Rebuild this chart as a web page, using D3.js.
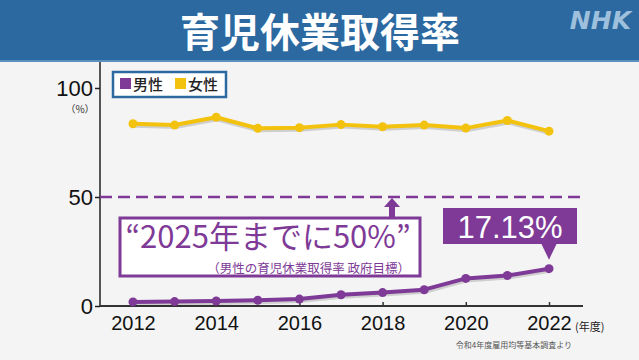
<!DOCTYPE html>
<html>
<head>
<meta charset="utf-8">
<script src="https://cdn.jsdelivr.net/npm/d3@7"></script>
<style>
  body { margin: 0; background: #f4f4f4; }
  svg { display: block; font-family: "Noto Sans CJK JP", "Noto Sans", sans-serif; }
</style>
</head>
<body>
<div id="chart"></div>
<script>
// Data (育児休業取得率, %)
const years = [2012, 2013, 2014, 2015, 2016, 2017, 2018, 2019, 2020, 2021, 2022];
const male = [1.89, 2.03, 2.30, 2.65, 3.16, 5.14, 6.16, 7.48, 12.65, 13.97, 17.13];
const female = [83.6, 83.0, 86.6, 81.5, 81.8, 83.2, 82.2, 83.0, 81.6, 85.1, 80.2];
const yTicks = [0, 50, 100];
const xTicks = [2012, 2014, 2016, 2018, 2020, 2022];
const target = 50;

const W = 639, H = 360;
const purple = "#7e3a96", yellow = "#f3c20f", blue = "#2b69a0";

const svg = d3.select("#chart").append("svg")
  .attr("width", W).attr("height", H);

// Background and header
svg.append("rect").attr("width", W).attr("height", H).attr("fill", "#f4f4f4");
svg.append("rect").attr("width", W).attr("height", 61).attr("fill", blue);
svg.append("rect").attr("y", 60).attr("width", W).attr("height", 2).attr("fill", "#5a8fbf");

svg.append("text")
  .attr("x", 320).attr("y", 47)
  .attr("text-anchor", "middle")
  .style("font-size", "40px").style("font-weight", "bold")
  .style("fill", "white")
  .text("育児休業取得率");

svg.append("text")
  .attr("x", 631).attr("y", 29)
  .attr("text-anchor", "end")
  .style("font-family", "'DejaVu Sans', sans-serif")
  .style("font-size", "25px").style("font-weight", "bold").style("font-style", "italic")
  .style("fill", "#9ec0dd")
  .text("NHK");

// Scales
const x = d3.scaleLinear().domain([2012, 2022]).range([133, 549]);
const y = d3.scaleLinear().domain([0, 100]).range([306, 88]);

// Axes
const g = svg.append("g");
g.append("line").attr("x1", 100).attr("x2", 100).attr("y1", 62).attr("y2", 306)
  .attr("stroke", "#222").attr("stroke-width", 1.5);
g.append("line").attr("x1", 100).attr("x2", 583).attr("y1", 306).attr("y2", 306)
  .attr("stroke", "#333").attr("stroke-width", 2);

const yAxis = g.append("g")
  .attr("transform", "translate(100,0)")
  .call(d3.axisLeft(y).tickValues(yTicks).tickSize(5).tickPadding(2));
yAxis.select(".domain").remove();
yAxis.selectAll("line").attr("stroke", "#222").attr("stroke-width", 1.5);
yAxis.selectAll("text")
  .style("font-family", "'Liberation Sans', Arial, sans-serif")
  .style("font-size", "22px").style("fill", "#111").attr("dy", "0.36em");

const xAxis = g.append("g")
  .attr("transform", "translate(0,306)")
  .call(d3.axisBottom(x).tickValues(xTicks).tickFormat(d3.format("d")).tickSize(-4).tickPadding(10));
xAxis.select(".domain").remove();
xAxis.selectAll("line").attr("stroke", "#333").attr("stroke-width", 1.5);
xAxis.selectAll("text")
  .style("font-family", "'Liberation Sans', Arial, sans-serif")
  .style("font-size", "20px").style("fill", "#111");

svg.append("text").attr("x", 80).attr("y", 113).attr("text-anchor", "middle")
  .style("font-size", "10px").style("fill", "#333").text("（%）");
svg.append("text").attr("x", 575).attr("y", 331).attr("text-anchor", "start")
  .style("font-size", "11px").style("fill", "#222").text("(年度)");
svg.append("text").attr("x", 572).attr("y", 348).attr("text-anchor", "end")
  .style("font-size", "8px").style("fill", "#555").text("令和4年度雇用均等基本調査より");

// Target dashed line
svg.append("line")
  .attr("x1", 100).attr("x2", 583)
  .attr("y1", y(target)).attr("y2", y(target))
  .attr("stroke", purple).attr("stroke-width", 2.5)
  .attr("stroke-dasharray", "12,6");

// Lines
const line = d3.line().x((d, i) => x(years[i])).y(d => y(d));

function drawSeries(values, color) {
  const s = svg.append("g");
  s.append("path").datum(values)
    .attr("d", line).attr("fill", "none")
    .attr("stroke", "rgba(0,0,0,0.15)").attr("stroke-width", 4)
    .attr("transform", "translate(1,2)");
  s.append("path").datum(values)
    .attr("d", line).attr("fill", "none")
    .attr("stroke", color).attr("stroke-width", 4)
    .attr("stroke-linejoin", "round");
  s.selectAll("circle").data(values).enter().append("circle")
    .attr("cx", (d, i) => x(years[i])).attr("cy", d => y(d))
    .attr("r", 4.5).attr("fill", color);
}
drawSeries(female, yellow);
drawSeries(male, purple);

// Legend
const leg = svg.append("g");
leg.append("rect").attr("x", 113).attr("y", 72).attr("width", 113).attr("height", 25)
  .attr("fill", "white").attr("stroke", blue).attr("stroke-width", 2.5);
[["男性", purple, 120], ["女性", yellow, 175]].forEach(([t, c, lx]) => {
  leg.append("rect").attr("x", lx).attr("y", 78).attr("width", 11).attr("height", 11).attr("fill", c);
  leg.append("text").attr("x", lx + 13).attr("y", 90)
    .style("font-size", "15px").style("font-weight", "500").style("fill", "#222").text(t);
});

// Goal annotation box with arrow
const ann = svg.append("g");
ann.append("rect").attr("x", 389).attr("y", 206).attr("width", 6).attr("height", 12).attr("fill", purple);
ann.append("path").attr("d", "M384,207 L392,198 L400,207 Z").attr("fill", purple);
ann.append("rect").attr("x", 120).attr("y", 218).attr("width", 300).attr("height", 58)
  .attr("fill", "white").attr("stroke", purple).attr("stroke-width", 3);
ann.append("text").attr("x", 268).attr("y", 248).attr("text-anchor", "middle")
  .style("font-size", "31px").style("fill", purple)
  .text("“2025年までに50%”");
ann.append("text").attr("x", 410).attr("y", 273).attr("text-anchor", "end")
  .style("font-size", "12.5px").style("fill", purple)
  .text("（男性の育児休業取得率 政府目標）");

// Latest value callout
const last = male[male.length - 1];
const cx = x(years[years.length - 1]), cy = y(last);
const call = svg.append("g");
call.append("rect").attr("x", 443).attr("y", 208).attr("width", 134).attr("height", 36).attr("fill", purple);
call.append("path")
  .attr("d", `M${cx - 8},243 L${cx},${cy - 9} L${cx + 8},243 Z`)
  .attr("fill", purple);
call.append("text").attr("x", 510).attr("y", 238).attr("text-anchor", "middle")
  .style("font-family", "'Liberation Sans', Arial, sans-serif")
  .style("font-size", "31px").style("fill", "white")
  .text(last.toFixed(2) + "%");
</script>
</body>
</html>
